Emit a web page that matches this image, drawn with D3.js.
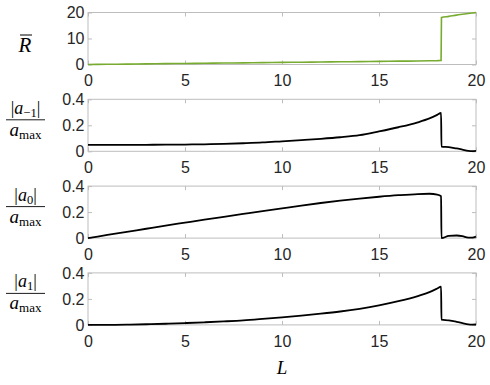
<!DOCTYPE html>
<html>
<head>
<meta charset="utf-8">
<script src="https://cdn.jsdelivr.net/npm/d3@7"></script>
<style>
  body { margin: 0; background: #fff; }
  svg { display: block; }
  .tick text { font-family: "Liberation Sans", Arial, sans-serif; font-size: 16px; fill: #262626; }
  .tick line { stroke: #bdbdbd; }
  .math { font-family: "Liberation Serif", "DejaVu Serif", serif; fill: #000; }
</style>
</head>
<body>
<svg id="chart" width="490" height="385"></svg>
<script>
// sample positions along L (the jump sits at L = 18.2)
const L = [0, 1, 2, 3, 4, 5, 6, 7, 8, 9, 10, 11, 12, 13, 14, 15, 16, 17, 17.6, 18, 18.2, 18.22, 18.6, 19, 19.3, 19.6, 19.8, 20];

const Rbar = [0, 0.08, 0.16, 0.24, 0.32, 0.4, 0.48, 0.56, 0.64, 0.72, 0.8, 0.88, 0.96, 1.04, 1.12, 1.2, 1.28, 1.36, 1.42, 1.47, 1.55, 18.1, 18.5, 19, 19.3, 19.6, 19.8, 20];
const aMinus1 = [0.05, 0.05, 0.05, 0.05, 0.051, 0.052, 0.054, 0.057, 0.062, 0.068, 0.077, 0.086, 0.096, 0.108, 0.124, 0.153, 0.185, 0.223, 0.253, 0.28, 0.295, 0.036, 0.032, 0.022, 0.013, 0.004, 0.002, 0.004];
const a0 = [0, 0.024, 0.048, 0.072, 0.096, 0.119, 0.142, 0.164, 0.186, 0.208, 0.229, 0.25, 0.27, 0.288, 0.304, 0.318, 0.33, 0.339, 0.341, 0.335, 0.322, 0, 0.017, 0.02, 0.015, 0.004, 0.004, 0.012];
const a1 = [0, 0.0005, 0.002, 0.005, 0.009, 0.014, 0.02, 0.027, 0.035, 0.046, 0.058, 0.071, 0.086, 0.103, 0.124, 0.15, 0.182, 0.222, 0.252, 0.28, 0.295, 0.04, 0.035, 0.024, 0.014, 0.004, 0.002, 0.003];

const xTicks = [0, 5, 10, 15, 20];
const panels = [
  { values: Rbar, domain: [0, 20], ticks: [0, 10, 20], color: "#77AC30", label: "Rbar" },
  { values: aMinus1, domain: [0, 0.4], ticks: [0, 0.2, 0.4], color: "#000", label: "a", sub: "−1" },
  { values: a0, domain: [0, 0.4], ticks: [0, 0.2, 0.4], color: "#000", label: "a", sub: "0" },
  { values: a1, domain: [0, 0.4], ticks: [0, 0.2, 0.4], color: "#000", label: "a", sub: "1" }
];

const svg = d3.select("#chart");
const left = 88, right = 476, h = 52, top0 = 12.5, step = 86.8;

const x = d3.scaleLinear().domain([0, 20]).range([left, right]);

panels.forEach((p, i) => {
  const top = top0 + i * step;
  const bottom = top + h;
  const y = d3.scaleLinear().domain(p.domain).range([bottom, top]);
  const g = svg.append("g");

  const fmt = d => String(d);

  g.append("g").attr("transform", `translate(0,${bottom})`)
    .call(d3.axisBottom(x).tickValues(xTicks).tickFormat(fmt).tickSize(-4).tickPadding(10.5))
    .call(a => a.select(".domain").remove());
  g.append("g").attr("transform", `translate(0,${top})`)
    .call(d3.axisTop(x).tickValues(xTicks).tickFormat("").tickSize(-4))
    .call(a => a.select(".domain").remove());
  g.append("g").attr("transform", `translate(${left},0)`)
    .call(d3.axisLeft(y).tickValues(p.ticks).tickFormat(fmt).tickSize(-4).tickPadding(3.5))
    .call(a => a.select(".domain").remove());
  g.append("g").attr("transform", `translate(${right},0)`)
    .call(d3.axisRight(y).tickValues(p.ticks).tickFormat("").tickSize(-4))
    .call(a => a.select(".domain").remove());

  g.append("rect")
    .attr("x", left).attr("y", top).attr("width", right - left).attr("height", h)
    .attr("fill", "none").attr("stroke", "#bdbdbd").attr("stroke-width", 1);

  const line = d3.line()
    .x((d, k) => x(L[k]))
    .y(d => y(d))
    .curve(d3.curveMonotoneX);

  g.append("path")
    .datum(p.values)
    .attr("fill", "none")
    .attr("stroke", p.color)
    .attr("stroke-width", p.label === "Rbar" ? 1.6 : 1.8)
    .attr("d", line);

  // y label
  if (p.label === "Rbar") {
    g.append("text").attr("class", "math")
      .attr("x", 25).attr("y", top + 39.5)
      .attr("text-anchor", "middle")
      .attr("font-size", 21).attr("font-style", "italic")
      .text("R");
    g.append("line").attr("x1", 20).attr("x2", 32)
      .attr("y1", top + 22.5).attr("y2", top + 22.5)
      .attr("stroke", "#000").attr("stroke-width", 1);
  } else {
    const num = g.append("text").attr("class", "math")
      .attr("x", 25.5).attr("y", top + 14.5)
      .attr("text-anchor", "middle").attr("font-size", 18);
    num.append("tspan").text("|");
    num.append("tspan").attr("font-style", "italic").text("a");
    num.append("tspan").attr("font-size", 12.5).attr("dy", 3).text(p.sub);
    num.append("tspan").attr("dy", -3).text("|");

    g.append("line").attr("x1", 6).attr("x2", 45)
      .attr("y1", top + 20.5).attr("y2", top + 20.5)
      .attr("stroke", "#000").attr("stroke-width", 0.9);

    const den = g.append("text").attr("class", "math")
      .attr("x", 25.5).attr("y", top + 36.5)
      .attr("text-anchor", "middle").attr("font-size", 19);
    den.append("tspan").attr("font-style", "italic").text("a");
    den.append("tspan").attr("font-size", 13).attr("dy", 3).text("max");
  }
});

svg.append("text").attr("class", "math")
  .attr("x", (left + right) / 2).attr("y", 374)
  .attr("text-anchor", "middle")
  .attr("font-size", 19).attr("font-style", "italic")
  .text("L");
</script>
</body>
</html>
